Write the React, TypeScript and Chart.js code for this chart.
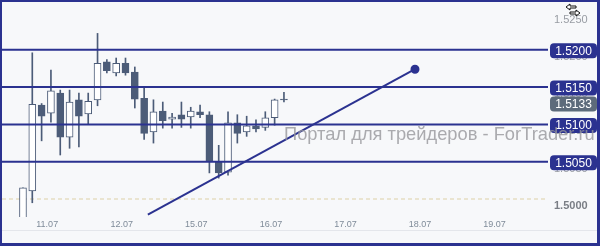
import React, { useEffect, useRef } from "react";
import { Chart, registerables } from "chart.js";

Chart.register(...registerables);

// ---- data ----
const opens = [1.4965, 1.5011, 1.5126, 1.5115, 1.5142, 1.5083, 1.5133, 1.5114, 1.5133, 1.5184, 1.5169, 1.5182, 1.5170, 1.5135, 1.5090, 1.5118, 1.5107, 1.5113, 1.5110, 1.5117, 1.5113, 1.5050, 1.5036, 1.5102, 1.5090, 1.5098, 1.5096, 1.5109, 1.5134];
const highs = [1.5015, 1.5196, 1.5128, 1.5173, 1.5146, 1.5146, 1.5142, 1.5142, 1.5222, 1.5187, 1.5189, 1.5189, 1.5177, 1.5149, 1.5133, 1.5130, 1.5115, 1.5130, 1.5123, 1.5126, 1.5117, 1.5072, 1.5117, 1.5113, 1.5111, 1.5106, 1.5117, 1.5134, 1.5143];
const lows = [1.4955, 1.4995, 1.5078, 1.5103, 1.5059, 1.5068, 1.5070, 1.5100, 1.5125, 1.5169, 1.5165, 1.5166, 1.5122, 1.5080, 1.5075, 1.5095, 1.5095, 1.5096, 1.5095, 1.5109, 1.5035, 1.5028, 1.5032, 1.5075, 1.5084, 1.5090, 1.5092, 1.5099, 1.5130];
const closes = [1.5015, 1.5127, 1.5111, 1.5145, 1.5083, 1.5130, 1.5111, 1.5131, 1.5182, 1.5172, 1.5182, 1.5169, 1.5134, 1.5088, 1.5117, 1.5105, 1.5110, 1.5107, 1.5118, 1.5113, 1.5050, 1.5035, 1.5102, 1.5088, 1.5098, 1.5094, 1.5109, 1.5133, 1.5133];

const levels = [1.52, 1.515, 1.51, 1.505];
const lastPrice = 1.5133;
const baseLevel = 1.5;
const trendStart = { x: 13.4, y: 1.4979 };
const trendEnd = { x: 42.06, y: 1.5174 };

const dayLabels = ["11.07", "12.07", "15.07", "16.07", "17.07", "18.07", "19.07"];
const firstDayLabelBar = 2.6;
const barsPerDay = 8;
const yTickValues = [1.5, 1.505, 1.51, 1.515, 1.52, 1.525];
const xMin = -2.25;
const xMax = 56.33;
const yMin = 1.49759;
const yMax = 1.52641;
const watermark = "Портал для трейдеров - ForTrader.ru";

// ---- styles ----
const NAVY = "#2b3290";
const SLATE = "#4c5c78";
const GRAYBADGE = "#5d6b7b";
const FONT = "'Liberation Sans', Arial, sans-serif";

const decor = {
  id: "decor",
  beforeDraw(chart: any) {
    const { ctx, width, chartArea, scales } = chart;
    ctx.save();
    ctx.fillStyle = "#f7f8fa";
    ctx.fillRect(0, 0, width, chart.height);
    ctx.strokeStyle = "#e4e6eb";
    ctx.lineWidth = 1;
    ctx.beginPath();
    ctx.moveTo(0, chartArea.bottom + 13.5);
    ctx.lineTo(width, chartArea.bottom + 13.5);
    ctx.stroke();
    const y0 = scales.y.getPixelForValue(baseLevel);
    ctx.setLineDash([4, 3]);
    ctx.strokeStyle = "#e6ddc2";
    ctx.lineWidth = 1.5;
    ctx.beginPath();
    ctx.moveTo(chartArea.left, y0);
    ctx.lineTo(chartArea.right - 3, y0);
    ctx.stroke();
    ctx.restore();
  },
  afterDraw(chart: any) {
    const { ctx, width, height, chartArea, scales } = chart;
    ctx.save();
    const items = [
      ...levels.map((v) => ({ v, color: NAVY })),
      { v: lastPrice, color: GRAYBADGE },
    ].map((b) => ({ ...b, y: scales.y.getPixelForValue(b.v) + 1 }));
    items.sort((a, b) => a.y - b.y);
    const h = 15;
    for (let i = 1; i < items.length; i++) {
      if (items[i].y - items[i - 1].y < h + 1) items[i].y = items[i - 1].y + h + 1;
    }
    const bx = chartArea.right + 2;
    const bw = width - 3 - bx;
    ctx.font = `12px ${FONT}`;
    ctx.textAlign = "center";
    ctx.textBaseline = "middle";
    for (const it of items) {
      ctx.fillStyle = it.color;
      ctx.beginPath();
      (ctx as any).roundRect(bx, it.y - h / 2, bw, h, 4);
      ctx.fill();
      ctx.fillStyle = "#ffffff";
      ctx.fillText(it.v.toFixed(4), bx + bw / 2, it.y + 0.5);
    }
    ctx.font = `18px ${FONT}`;
    const tw = ctx.measureText(watermark).width;
    const fs = (18 * 311) / tw;
    ctx.font = `${fs}px ${FONT}`;
    ctx.textAlign = "left";
    ctx.textBaseline = "alphabetic";
    ctx.fillStyle = "rgba(150,150,155,0.8)";
    ctx.fillText(watermark, 284, 140);
    ctx.lineWidth = 1;
    ctx.strokeStyle = "#111";
    ctx.fillStyle = "#fff";
    const ix = 566, iy = 4;
    ctx.beginPath();
    ctx.moveTo(ix, iy + 3); ctx.lineTo(ix + 4, iy); ctx.lineTo(ix + 4, iy + 2); ctx.lineTo(ix + 10, iy + 2);
    ctx.lineTo(ix + 10, iy + 4); ctx.lineTo(ix + 4, iy + 4); ctx.lineTo(ix + 4, iy + 6); ctx.closePath();
    ctx.fill(); ctx.stroke();
    ctx.beginPath();
    ctx.moveTo(ix + 14, iy + 9); ctx.lineTo(ix + 10, iy + 6); ctx.lineTo(ix + 10, iy + 8); ctx.lineTo(ix + 4, iy + 8);
    ctx.lineTo(ix + 4, iy + 10); ctx.lineTo(ix + 10, iy + 10); ctx.lineTo(ix + 10, iy + 12); ctx.closePath();
    ctx.fill(); ctx.stroke();
    ctx.fillStyle = NAVY;
    ctx.fillRect(0, 0, width, 2);
    ctx.fillRect(0, 0, 2, height);
    ctx.fillRect(0, height - 3, width, 3);
    ctx.fillRect(width - 3, 0, 3, height);
    ctx.restore();
  },
};

export default function App() {
  const ref = useRef<HTMLCanvasElement | null>(null);
  useEffect(() => {
    document.body.style.margin = "0";
    const canvas = ref.current;
    if (!canvas) return;
    const idx = opens.map((_, i) => i);
    const bull = idx.map((i) => closes[i] >= opens[i]);
    const datasets: any[] = [
      ...levels.map((lv) => ({
        type: "line",
        data: [
          { x: xMin, y: lv },
          { x: xMax, y: lv },
        ],
        borderColor: NAVY,
        borderWidth: 2,
        pointRadius: 0,
        order: 0,
      })),
      {
        type: "line",
        data: [trendStart, trendEnd],
        borderColor: NAVY,
        borderWidth: 2,
        pointRadius: [0, 3.5],
        pointBackgroundColor: NAVY,
        pointBorderColor: NAVY,
        order: 0,
      },
      {
        type: "bar",
        data: idx.map((i) => ({ x: i, y: [opens[i], closes[i]] })),
        backgroundColor: idx.map((i) => (bull[i] ? "#ffffff" : SLATE)),
        borderColor: SLATE,
        borderWidth: 1,
        borderSkipped: false,
        barThickness: 7,
        grouped: false,
        order: 1,
      },
      {
        type: "bar",
        data: idx.map((i) => ({ x: i, y: [lows[i], highs[i]] })),
        backgroundColor: SLATE,
        borderWidth: 0,
        barThickness: 1,
        grouped: false,
        order: 2,
      },
    ];
    const chart = new Chart(canvas, {
      type: "bar",
      data: { datasets },
      options: {
        animation: false,
        responsive: false,
        events: [],
        layout: { autoPadding: false, padding: { top: 2, left: 2, right: 2, bottom: 2 } },
        plugins: { legend: { display: false }, tooltip: { enabled: false } },
        scales: {
          x: {
            type: "linear",
            min: xMin,
            max: xMax,
            offset: false,
            grid: { display: false, drawTicks: false },
            border: { display: false },
            afterBuildTicks: (s: any) => {
              s.ticks = dayLabels.map((_, k) => ({ value: firstDayLabelBar + k * barsPerDay }));
            },
            afterFit: (s: any) => {
              s.height = 27;
              s.paddingLeft = 0;
              s.paddingRight = 0;
            },
            ticks: {
              autoSkip: false,
              maxRotation: 0,
              padding: 2,
              color: "#7f8b99",
              font: { size: 9, family: FONT },
              callback: (_v: any, i: number) => dayLabels[i],
            },
          },
          y: {
            type: "linear",
            position: "right",
            min: yMin,
            max: yMax,
            grid: { display: false, drawTicks: false },
            border: { display: false },
            afterBuildTicks: (s: any) => {
              s.ticks = yTickValues.map((v) => ({ value: v }));
            },
            afterFit: (s: any) => {
              s.width = 50;
              s.paddingTop = 0;
              s.paddingBottom = 0;
            },
            ticks: {
              padding: 6,
              labelOffset: 7,
              font: (c: any) => ({ size: 11, family: FONT, weight: c.tick && c.tick.value === baseLevel ? "bold" : "normal" }),
              color: (c: any) => (c.tick && c.tick.value === baseLevel ? "#7a7e85" : "#989ca3"),
              callback: (v: any) => Number(v).toFixed(4),
            },
          },
        },
      },
      plugins: [decor],
    } as any);
    return () => chart.destroy();
  }, []);
  return (
    <div style={{ width: 600, height: 246 }}>
      <canvas ref={ref} width={600} height={246} style={{ display: "block" }} />
    </div>
  );
}
